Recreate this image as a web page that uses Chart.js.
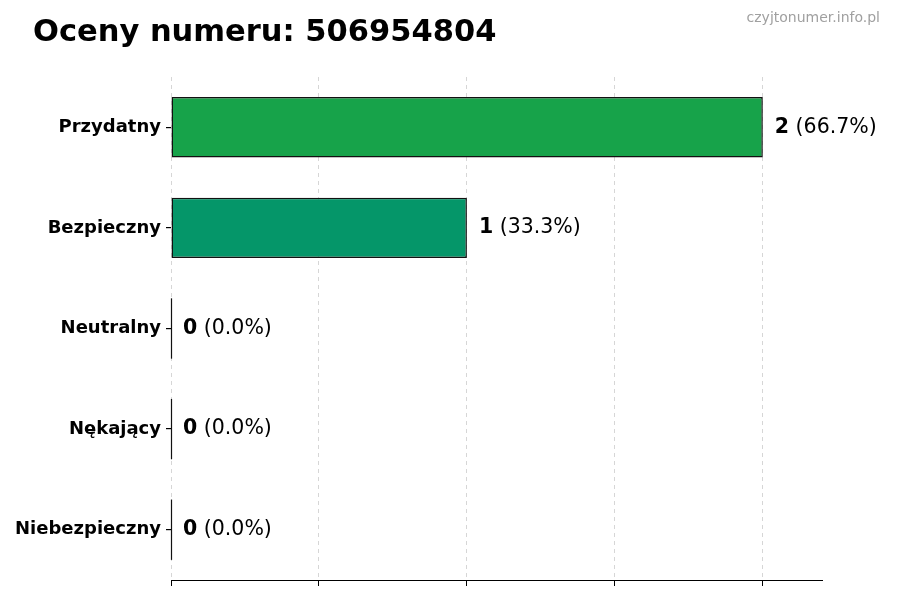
<!DOCTYPE html>
<html>
<head>
<meta charset="utf-8">
<title>Oceny numeru</title>
<script src="https://cdn.jsdelivr.net/npm/chart.js@4.4.1/dist/chart.umd.min.js"></script>
<style>
  html, body { margin: 0; padding: 0; background: #fff; }
  #wrap { width: 900px; height: 600px; }
</style>
</head>
<body>
<div id="wrap"><canvas id="chart" width="900" height="600"></canvas></div>
<script>
// data
var categories = ["Przydatny", "Bezpieczny", "Neutralny", "Nękający", "Niebezpieczny"];
var counts = [2, 1, 0, 0, 0];
var barColors = ["#17a34a", "#059669", "#9ca3af", "#f97316", "#dc2626"];
var titleText = "Oceny numeru: 506954804";
var siteText = "czyjtonumer.info.pl";

var FONT = "'DejaVu Sans', sans-serif";

var total = counts.reduce(function (a, b) { return a + b; }, 0);

// title + watermark
var headerPlugin = {
  id: "header",
  afterDraw: function (chart) {
    var ctx = chart.ctx;
    ctx.save();
    ctx.fillStyle = "#000";
    ctx.font = "bold 30.5px " + FONT;
    ctx.textAlign = "left";
    ctx.textBaseline = "alphabetic";
    ctx.fillText(titleText, 33, 41);
    ctx.fillStyle = "#a0a0a0";
    ctx.font = "14px " + FONT;
    ctx.textAlign = "right";
    ctx.fillText(siteText, 880, 22);
    ctx.restore();
  }
};

// value labels "2 (66.7%)" and the edge line of empty bars
var valuePlugin = {
  id: "values",
  afterDatasetsDraw: function (chart) {
    var ctx = chart.ctx;
    var meta = chart.getDatasetMeta(0);
    ctx.save();
    meta.data.forEach(function (el, i) {
      var v = counts[i];
      if (v === 0) {
        ctx.strokeStyle = "#111";
        ctx.lineWidth = 1.2;
        ctx.beginPath();
        ctx.moveTo(el.x + 0.5, el.y - el.height / 2);
        ctx.lineTo(el.x + 0.5, el.y + el.height / 2);
        ctx.stroke();
      }
      var pct = total ? (v / total * 100).toFixed(1) : "0.0";
      var x = el.x + 12;
      ctx.textBaseline = "middle";
      ctx.textAlign = "left";
      ctx.fillStyle = "#000";
      ctx.font = "bold 20.5px " + FONT;
      ctx.fillText(String(v), x, el.y);
      x += ctx.measureText(String(v)).width;
      ctx.font = "20.5px " + FONT;
      ctx.fillText(" (" + pct + "%)", x, el.y);
    });
    ctx.restore();
  }
};

var chart = new Chart(document.getElementById("chart"), {
  type: "bar",
  data: {
    labels: categories,
    datasets: [{
      data: counts,
      backgroundColor: barColors,
      borderColor: "#111",
      borderWidth: 1.5,
      borderSkipped: false,
      barPercentage: 0.6,
      categoryPercentage: 1
    }]
  },
  options: {
    indexAxis: "y",
    responsive: false,
    animation: false,
    devicePixelRatio: 1,
    layout: { padding: { top: 77, right: 78, bottom: 5, left: 0 } },
    plugins: {
      legend: { display: false },
      tooltip: { enabled: false },
      title: { display: false }
    },
    scales: {
      x: {
        min: 0,
        max: 2.2,
        z: 1,
        ticks: { display: false, stepSize: 0.5, includeBounds: false },
        grid: {
          color: "rgba(0,0,0,0.16)",
          tickColor: "#000",
          tickLength: 6,
          drawTicks: true
        },
        border: { display: true, color: "#000", width: 1, dash: [4, 4] },
        afterFit: function (scale) { scale.height = 15; }
      },
      y: {
        grid: {
          display: true,
          drawOnChartArea: false,
          drawTicks: true,
          tickLength: 5,
          tickColor: "#000",
          lineWidth: 1.2,
          offset: false
        },
        border: { display: false },
        ticks: {
          color: "#000",
          padding: 5,
          font: { family: FONT, size: 18, weight: "bold" }
        },
        afterFit: function (scale) { scale.width = 171; }
      }
    }
  },
  plugins: [headerPlugin, valuePlugin]
});
</script>
</body>
</html>
